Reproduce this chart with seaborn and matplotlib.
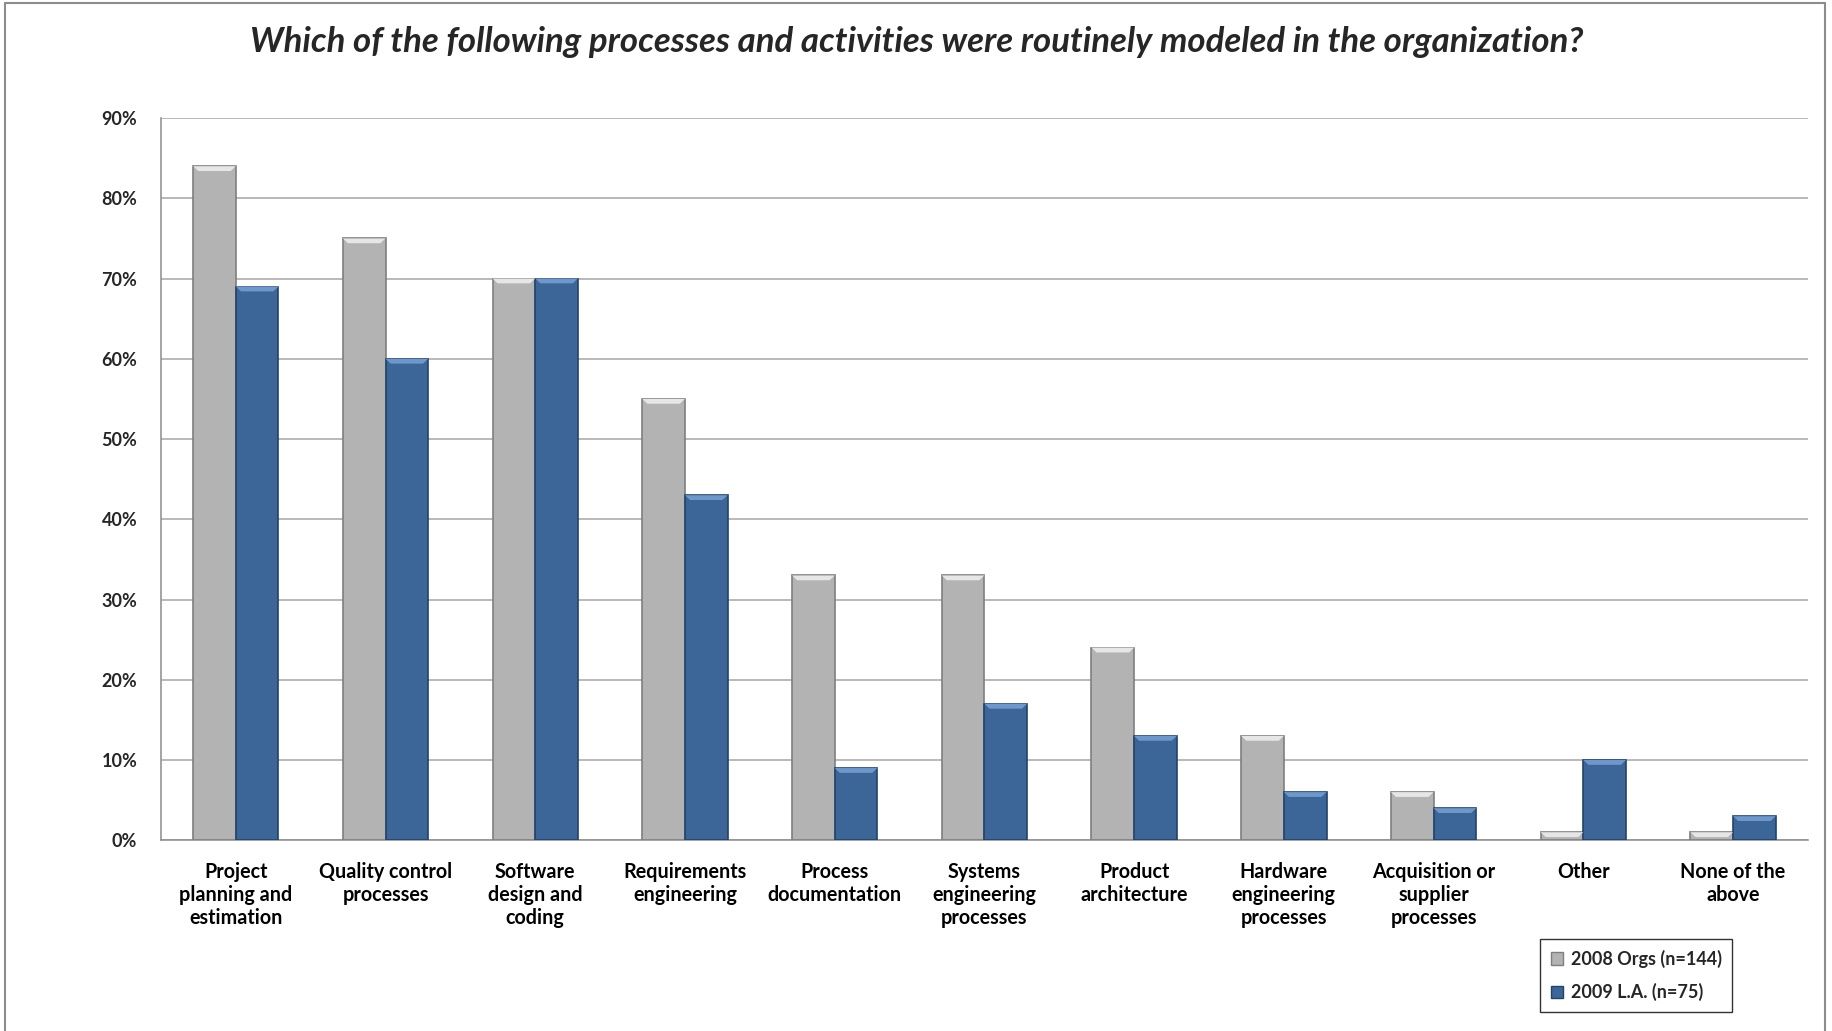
import numpy as np
import pandas as pd
import matplotlib
matplotlib.use('Agg')
import matplotlib.pyplot as plt
import seaborn as sns
from matplotlib.lines import Line2D
from matplotlib.patches import Polygon

# data
categories = ['Project\nplanning and\nestimation', 'Quality control\nprocesses',
              'Software\ndesign and\ncoding', 'Requirements\nengineering',
              'Process\ndocumentation', 'Systems\nengineering\nprocesses',
              'Product\narchitecture', 'Hardware\nengineering\nprocesses',
              'Acquisition or\nsupplier\nprocesses', 'Other', 'None of the\nabove']
orgs_2008 = [84, 75, 70, 55, 33, 33, 24, 13, 6, 1, 1]
la_2009 = [69, 60, 70, 43, 9, 17, 13, 6, 4, 10, 3]
series = ['2008 Orgs (n=144)', '2009 L.A. (n=75)']
yticks = [0, 10, 20, 30, 40, 50, 60, 70, 80, 90]

df = pd.DataFrame({
    'cat': categories * 2,
    'val': [v / 100 for v in orgs_2008 + la_2009],
    'series': [series[0]] * len(categories) + [series[1]] * len(categories),
})

sns.set_style('white')
plt.rcParams['font.family'] = ['Lato', 'DejaVu Sans']

fig = plt.figure(figsize=(18.33, 10.31), dpi=100)
ax = fig.add_axes([0.0878, 0.185, 0.8985, 0.7005])

palette = {series[0]: '#B3B3B3', series[1]: '#3C6698'}
light = {series[0]: '#E6E6E6', series[1]: '#6E98CC'}
edge = {series[0]: '#7F7F7F', series[1]: '#24436A'}

sns.barplot(data=df, x='cat', y='val', hue='series', palette=palette,
            width=0.57, gap=0, ax=ax, legend=False, saturation=1)

# bevel-like highlight at the top of every bar
cap = 0.006
for i, cont in enumerate(ax.containers):
    for p in cont.patches:
        p.set_edgecolor(edge[series[i]])
        p.set_linewidth(1.2)
        p.set_zorder(3)
        x0, w, h = p.get_x(), p.get_width(), p.get_height()
        if h <= 0:
            continue
        c = min(cap, h * 0.8)
        d = w * 0.12
        ax.add_patch(Polygon([[x0, h], [x0 + w, h], [x0 + w - d, h - c], [x0 + d, h - c]],
                             closed=True, facecolor=light[series[i]],
                             edgecolor='none', zorder=4))

ax.set_ylim(0, 0.9)
ax.set_xlim(-0.5, len(categories) - 0.5)
ax.set_yticks([t / 100 for t in yticks])
ax.set_yticklabels([f'{t}%' for t in yticks], fontsize=13, fontweight='bold')
ax.yaxis.grid(True, color='#A6A6A6', linewidth=1.1, zorder=0)
ax.set_axisbelow(True)
ax.set_xlabel('')
ax.set_ylabel('')

ax.set_xticks(range(len(categories)))
ax.set_xticklabels(categories, fontsize=14.2, fontweight='bold', linespacing=1.18,
                   va='top')
ax.set_xticks(np.arange(-0.5, len(categories), 1.0), minor=True)
ax.tick_params(axis='x', which='major', length=0, pad=16, colors='black')
ax.tick_params(axis='x', which='minor', length=7, color='#8C8C8C', width=1.1)
ax.tick_params(axis='y', length=7, color='#8C8C8C', width=1.1, pad=10)

for s in ['top', 'right']:
    ax.spines[s].set_visible(False)
for s in ['left', 'bottom']:
    ax.spines[s].set_color('#8C8C8C')
    ax.spines[s].set_linewidth(1.1)

fig.text(0.5, 0.959, 'Which of the following processes and activities were routinely modeled in the organization?',
         ha='center', va='center', fontsize=25, fontweight='bold', fontstyle='italic')

handles = [plt.Rectangle((0, 0), 1, 1, facecolor=palette[s], edgecolor=edge[s]) for s in series]
fig.legend(handles, series, loc='upper left', bbox_to_anchor=(0.8352, 0.098),
           frameon=True, fancybox=False, edgecolor='black',
           handlelength=0.7, handleheight=0.7, handletextpad=0.4,
           labelspacing=0.85, borderpad=0.6, prop={'weight': 'bold', 'size': 13})

# outer chart frame
fig.add_artist(Line2D([0.003, 0.003], [0, 0.997], color='#8C8C8C', linewidth=1.5))
fig.add_artist(Line2D([0.003, 0.9955], [0.997, 0.997], color='#8C8C8C', linewidth=1.5))
fig.add_artist(Line2D([0.9955, 0.9955], [0, 0.997], color='#8C8C8C', linewidth=1.5))

fig.savefig('out.png', dpi=100)
